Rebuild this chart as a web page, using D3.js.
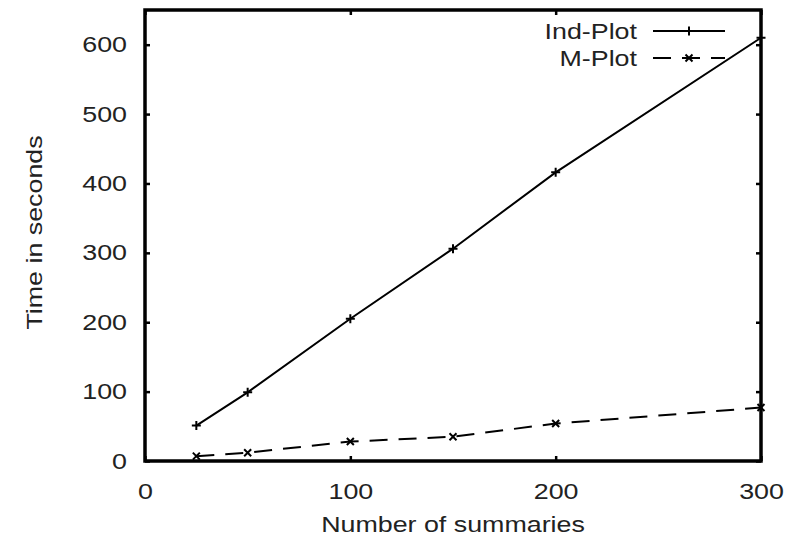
<!DOCTYPE html>
<html>
<head>
<meta charset="utf-8">
<script src="https://cdn.jsdelivr.net/npm/d3@7"></script>
<style>
  html, body { margin: 0; padding: 0; background: #fff; }
  svg { display: block; }
  text { font-family: "Liberation Sans", Arial, Helvetica, sans-serif; fill: #222; }
</style>
</head>
<body>
<svg id="chart" width="796" height="542"></svg>
<script>
// Run time of the two plotting approaches against the number of summaries
const summaries = [25, 50, 100, 150, 200, 300];
const indPlot = [51, 99, 205, 306, 416, 610];
const mPlot = [7, 12, 28, 35, 54, 77];
const seriesNames = ["Ind-Plot", "M-Plot"];
const xTicks = [0, 100, 200, 300];
const yTicks = [0, 100, 200, 300, 400, 500, 600];

const svg = d3.select("#chart");
const margin = { left: 145, right: 35, top: 10, bottom: 81 };
const W = 796, H = 542;

const x = d3.scaleLinear().domain([0, 300]).range([margin.left, W - margin.right]);
const y = d3.scaleLinear().domain([0, 650]).range([H - margin.bottom, margin.top]);

// Text is set in a slightly widened sans face
const fontSize = 22;
const stretch = 1.22;

// Axes with inward ticks, mirrored on the opposite sides
const tickLen = 5;
const g = svg.append("g");

const axisBottomG = g.append("g").attr("transform", `translate(0,${y(0)})`)
  .call(d3.axisBottom(x).tickValues(xTicks).tickSizeInner(-tickLen).tickSizeOuter(0).tickPadding(22));
const axisLeftG = g.append("g").attr("transform", `translate(${x(0)},0)`)
  .call(d3.axisLeft(y).tickValues(yTicks).tickSizeInner(-tickLen).tickSizeOuter(0).tickPadding(18));
const axisTopG = g.append("g").attr("transform", `translate(0,${y(650)})`)
  .call(d3.axisTop(x).tickValues(xTicks).tickSizeInner(-tickLen).tickSizeOuter(0).tickFormat(""));
const axisRightG = g.append("g").attr("transform", `translate(${x(300)},0)`)
  .call(d3.axisRight(y).tickValues(yTicks).tickSizeInner(-tickLen).tickSizeOuter(0).tickFormat(""));

[axisBottomG, axisLeftG, axisTopG, axisRightG].forEach(a => {
  a.select(".domain").remove();
  a.selectAll(".tick line").attr("stroke", "#000").attr("stroke-width", 2.5);
  a.selectAll(".tick text").each(function () {
    const t = d3.select(this);
    const tx = +t.attr("x") || 0, ty = +t.attr("y") || 0;
    t.attr("x", 0).attr("y", 0)
      .attr("transform", `translate(${tx},${ty}) scale(${stretch},1)`)
      .attr("font-size", fontSize)
      .attr("font-family", "Liberation Sans, Arial, sans-serif")
      .attr("fill", "#222");
  });
});

// Plot frame
g.append("rect")
  .attr("x", x(0)).attr("y", y(650))
  .attr("width", x(300) - x(0)).attr("height", y(0) - y(650))
  .attr("fill", "none").attr("stroke", "#000").attr("stroke-width", 3.5);

// Axis titles
svg.append("text")
  .attr("transform", `translate(${(x(0) + x(300)) / 2},532) scale(${stretch},1)`)
  .attr("text-anchor", "middle").attr("font-size", fontSize)
  .text("Number of summaries");
svg.append("text")
  .attr("transform", `translate(42,${(y(0) + y(650)) / 2 - 3}) rotate(-90) scale(${stretch},1)`)
  .attr("text-anchor", "middle").attr("font-size", fontSize)
  .text("Time in seconds");

const line = d3.line().x(d => x(d[0])).y(d => y(d[1]));
const plusPath = s => `M${-s},0H${s}M0,${-s}V${s}`;
const crossPath = s => `M${-s},${-s}L${s},${s}M${-s},${s}L${s},${-s}`;

const series = [
  { name: seriesNames[0], values: indPlot, dash: null, marker: plusPath },
  { name: seriesNames[1], values: mPlot, dash: "18,11", marker: crossPath }
];

series.forEach((s, i) => {
  const pts = summaries.map((v, j) => [v, s.values[j]]);
  svg.append("path")
    .attr("d", line(pts))
    .attr("fill", "none").attr("stroke", "#000").attr("stroke-width", 2)
    .attr("stroke-dasharray", s.dash);
  svg.selectAll(null).data(pts).enter().append("path")
    .attr("transform", d => `translate(${x(d[0])},${y(d[1])})`)
    .attr("d", s.marker(i === 0 ? 4.5 : 3.5))
    .attr("stroke", "#000").attr("stroke-width", 2).attr("fill", "none");

  // Legend entry
  const ly = 31 + i * 27;
  svg.append("text")
    .attr("transform", `translate(637,${ly}) scale(${stretch},1)`)
    .attr("dy", "0.35em")
    .attr("text-anchor", "end").attr("font-size", fontSize)
    .text(s.name);
  svg.append("line")
    .attr("x1", 653).attr("x2", 725).attr("y1", ly).attr("y2", ly)
    .attr("stroke", "#000").attr("stroke-width", 2)
    .attr("stroke-dasharray", s.dash);
  svg.append("path")
    .attr("transform", `translate(689,${ly})`)
    .attr("d", s.marker(i === 0 ? 4.5 : 3.5))
    .attr("stroke", "#000").attr("stroke-width", 2).attr("fill", "none");
});
</script>
</body>
</html>
